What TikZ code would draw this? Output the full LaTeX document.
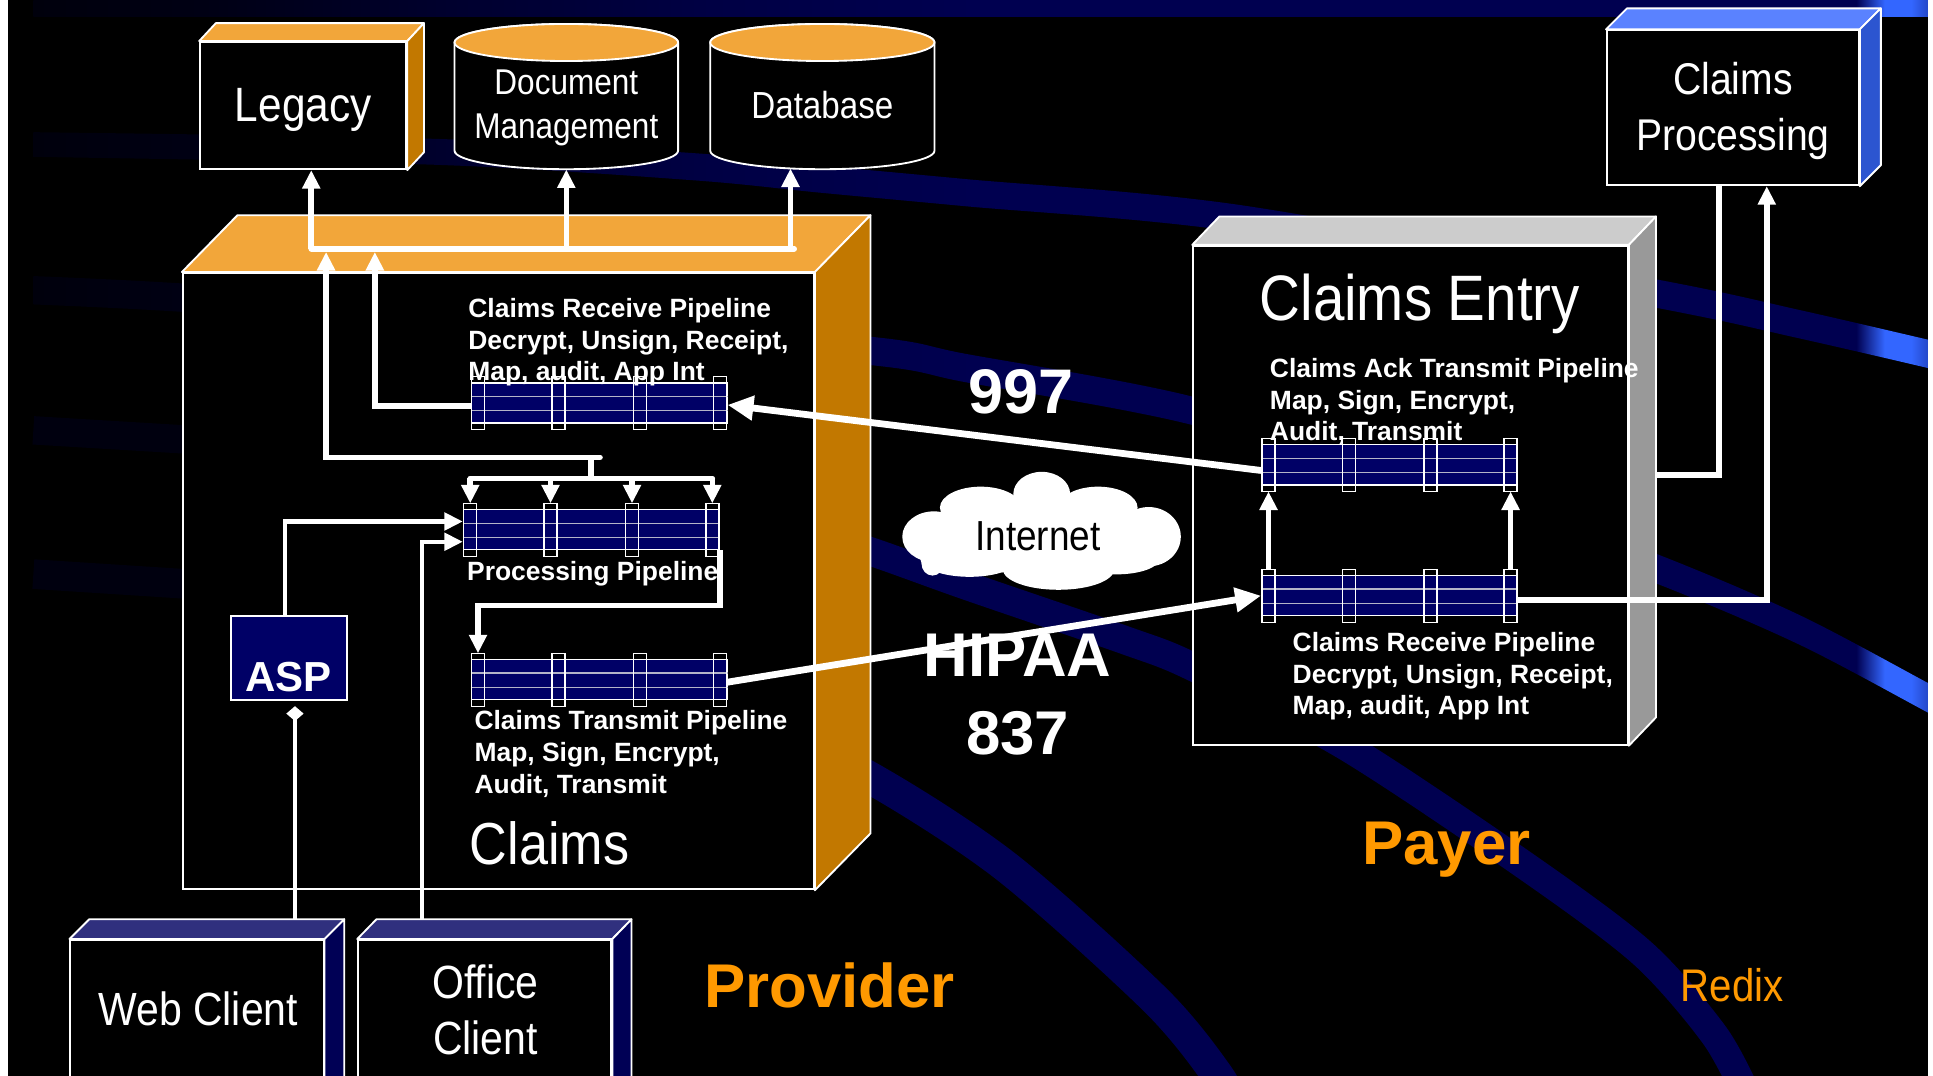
\documentclass[tikz,border=0pt]{standalone}
\usepackage{fontspec}
\setmainfont{Liberation Sans}
\newfontfamily\nar[FakeStretch=0.88]{Liberation Sans}
\usetikzlibrary{arrows.meta,calc}
\definecolor{bd0}{HTML}{00000C}
\definecolor{bd1}{HTML}{000014}
\definecolor{bd2}{HTML}{00002E}
\definecolor{bd3}{HTML}{000044}
\definecolor{bnv}{HTML}{000050}
\definecolor{brightblue}{HTML}{3366FF}
\definecolor{brightend}{HTML}{2448C8}
\definecolor{darkband}{HTML}{00000F}
\definecolor{pipenavy}{HTML}{000066}
\definecolor{pipegrey}{HTML}{B4B4C8}
\definecolor{orangetop}{HTML}{F2A63A}
\definecolor{orangeside}{HTML}{C27800}
\definecolor{greytop}{HTML}{CCCCCC}
\definecolor{greyside}{HTML}{999999}
\definecolor{bluetop}{HTML}{5A82FF}
\definecolor{blueside}{HTML}{2C55D0}
\definecolor{navytop}{HTML}{30307E}
\definecolor{navyside}{HTML}{000055}
\definecolor{lblorange}{HTML}{FF9900}
\pgfdeclarehorizontalshading{bandshade}{100bp}{color(0bp)=(bd0); color(25bp)=(bd0); color(29.5bp)=(bd1); color(36bp)=(bd2); color(42.9bp)=(bd3); color(49.9bp)=(bnv); color(73.1bp)=(bnv); color(73.85bp)=(brightblue); color(74.55bp)=(brightblue); color(75bp)=(brightend); color(100bp)=(brightend)}
\tikzset{
  tipA/.tip={Triangle[length=15pt,width=14pt]},
  tipB/.tip={Triangle[length=21pt,width=19pt]},
  tipD/.tip={Diamond[length=12pt,width=14pt]},
  front/.style={draw=white, fill=black, line width=1.5pt, inner sep=0pt},
  face/.style={draw=white, line width=1.5pt, line join=round},
  pipe/.style={draw=white, fill=pipenavy, line width=1pt, minimum width=207pt, minimum height=32.5pt, inner sep=0pt},
  pipeln/.style={draw=pipegrey, line width=1pt},
  ring/.style={draw=white, line width=1.2pt},
  conn/.style={draw=white, line width=4.5pt},
  conn2/.style={draw=white, line width=3.6pt},
  bigconn/.style={draw=white, line width=5.5pt},
  txt/.style={inner sep=0pt, text=white, anchor=base},
  navyband/.style={draw=bnv},
}
\newcommand\nfont[1]{\nar\fontsize{#1pt}{#1pt}\selectfont}
\newcommand\bfont[1]{\bfseries\fontsize{#1pt}{#1pt}\selectfont}
\newcommand\mkcube[7]{%
  \node[front, minimum width=#3, minimum height=#4] (#1) at (#2) {};
  \filldraw[face, fill=#6] (#1.north west) -- ++(#5) -- ($(#1.north east)+(#5)$) -- (#1.north east) -- cycle;
  \filldraw[face, fill=#7] (#1.north east) -- ++(#5) -- ($(#1.south east)+(#5)$) -- (#1.south east) -- cycle;
}
\newcommand\mkpipe[2]{%
  \node[pipe] (#1) at (#2) {};
  \draw[pipeln] ($(#1.north west)!0.34!(#1.south west)$) -- ($(#1.north east)!0.34!(#1.south east)$);
  \draw[pipeln] ($(#1.north west)!0.68!(#1.south west)$) -- ($(#1.north east)!0.68!(#1.south east)$);
  \foreach \o in {-98,-33,33,98}{\draw[ring] ($(#1.center)+(\o-5.25,-21.4)$) rectangle ($(#1.center)+(\o+5.25,21.6)$);}
}
\begin{document}
\begin{tikzpicture}[x=1pt,y=-1pt]
\useasboundingbox (0,0) rectangle (1565,871);
\fill[black] (0,0) rectangle (1565,871);
% ---------- background bands
\shade[shading=bandshade] (27,0) rectangle (1561,13.5);
\begin{scope}
  \clip plot[smooth] coordinates {(27,107) (355,112.5) (562,124) (664,134) (782,145) (1004,166) (1340,226) (1457,251) (1561,275) (1600,284)}
     -- plot[smooth] coordinates {(1600,308) (1561,298) (1457,274) (1340,249) (1004,188) (782,167) (664,156) (562,146) (355,133.5) (27,127)} -- cycle;
  \shade[shading=bandshade] (27,0) rectangle (1561,871);
\end{scope}
\begin{scope}
  \clip plot[smooth] coordinates {(27,223.5) (148,229.5) (420,248.5) (704,272.5) (782,286.5) (963,320.5) (1150,378) (1340,448) (1457,498) (1561,553) (1600,574)}
     -- plot[smooth] coordinates {(1600,598) (1561,577) (1457,522) (1340,472) (1150,402) (963,343.5) (782,309.5) (704,295.5) (420,271.5) (148,252.5) (27,246.5)} -- cycle;
  \shade[shading=bandshade] (27,0) rectangle (1561,871);
\end{scope}
\draw[navyband, line width=23pt] plot[smooth] coordinates {(600,412) (705,446.5) (782,474) (910,518) (966,540) (1090,604.5) (1236,701.7) (1330,772) (1388,838) (1415,888)};
\draw[navyband, line width=26pt] plot[smooth] coordinates {(600,580) (705,630) (814.6,701.7) (935.4,809.6) (986,871) (1000,900)};
\draw[darkband, line width=23pt] (27,348.4) -- (170,357);
\draw[darkband, line width=24pt] (27,464.8) -- (170,474);
% ---------- boxes
\mkcube{legacy}{245.5,85.5}{167pt}{103pt}{13.5,-14.5}{orangetop}{orangeside}
\node[inner sep=0pt, minimum width=181pt, minimum height=117.6pt] (docm) at (458.5,78.2) {};
\filldraw[face, fill=black] (368,34.4) -- (368,122) arc[start angle=180, end angle=0, x radius=90.5, y radius=15] -- (549,34.4) arc[start angle=0, end angle=-180, x radius=90.5, y radius=15] -- cycle;
\filldraw[face, fill=orangetop] (458.5,34.4) ellipse[x radius=90.5, y radius=15];
\node[inner sep=0pt, minimum width=181.6pt, minimum height=117.6pt] (db) at (665.8,78.2) {};
\filldraw[face, fill=black] (575,34.4) -- (575,122) arc[start angle=180, end angle=0, x radius=90.8, y radius=15] -- (756.6,34.4) arc[start angle=0, end angle=-180, x radius=90.8, y radius=15] -- cycle;
\filldraw[face, fill=orangetop] (665.8,34.4) ellipse[x radius=90.8, y radius=15];
\mkcube{claims}{403.5,470.5}{511pt}{499pt}{45,-46}{orangetop}{orangeside}
\mkcube{centry}{1142,401}{352pt}{404pt}{22,-23}{greytop}{greyside}
\mkcube{cp}{1403,87.25}{204pt}{125.5pt}{17,-17}{bluetop}{blueside}
\mkcube{web}{159.5,830.5}{205pt}{139pt}{16,-16}{navytop}{navyside}
\mkcube{office}{392.5,830.5}{205pt}{139pt}{15.5,-16}{navytop}{navyside}
\node[draw=white, fill=pipenavy, line width=1.5pt, inner sep=0pt, minimum width=94.5pt, minimum height=68pt] (asp) at (233.95,532.7) {};
% ---------- pipelines
\mkpipe{P1}{485,326.3}
\mkpipe{P2}{478.7,428.9}
\mkpipe{P3}{485,550.3}
\mkpipe{P4}{1125,376.4}
\mkpipe{P5}{1125,482.3}
% ---------- connectors
\coordinate (bL) at (252,201.4);
\coordinate (bR) at (643,201.4);
\coordinate (dbx) at (640,0);
\draw[conn, line cap=round] (bL) -- (bR);
\draw[conn,-{tipA}] (bL) -- (bL |- legacy.south);
\draw[conn,-{tipA}] (docm.south |- bL) -- (docm.south);
\draw[conn,-{tipA}] (dbx |- bL) -- (640,136.4);
\coordinate (up1) at (303.5,204);
\draw[conn,-{tipA}] ([yshift=-2.5pt]P1.west) -| (up1);
\coordinate (jR) at (485.8,370.3);
\coordinate (jL) at (264,370.3);
\coordinate (jM) at (478.5,370.3);
\coordinate (up2) at (264,204);
\draw[conn, line cap=round, -{tipA}] (jR) -- (jL) -- (up2);
\draw[conn] (jM) -- ($(P2.center)+(-0.2,-41.6)$);
\draw[conn, line cap=round] ($(P2.center)+(-98,-41.6)$) -- ($(P2.center)+(98,-41.6)$);
\foreach \o in {-98,-33,33,98}{\draw[conn,-{tipA}] ($(P2.center)+(\o,-41.6)$) -- ($(P2.center)+(\o,-21.4)$);}
\draw[conn,-{tipA}] (P2.south east) |- ($(P3.center)+(-98,-60)$) -- ($(P3.center)+(-98,-21.4)$);
\draw[conn2,-{tipA}] ([xshift=-3.3pt]asp.north) |- ([yshift=6.7pt]P2.west);
\coordinate (offtop) at ($(office.north)+(0,-16)$);
\coordinate (ox) at (341.7,0);
\draw[conn2,-{tipA}] (offtop -| ox) |- ([yshift=-9.7pt]P2.west);
\coordinate (webtop) at ($(web.north)+(0,-16)$);
\coordinate (wx) at (238.8,0);
\draw[conn2,-{tipD}, shorten >=4.3pt] (webtop -| wx) -- (asp.south -| wx);
\draw[bigconn,-{tipB}] ([yshift=-4.5pt]P4.west) -- ([yshift=-1.5pt]P1.east);
\draw[bigconn,-{tipB}] ([yshift=-2pt]P3.east) -- (P5.west);
\draw[conn,-{tipA}] ($(P5.center)+(-98,-21.5)$) -- ($(P4.center)+(-98,21.5)$);
\draw[conn,-{tipA}] ($(P5.center)+(98,-21.5)$) -- ($(P4.center)+(98,21.5)$);
\draw[conn,-{tipA}] ([yshift=-3.3pt]P5.east) -| ([xshift=27.4pt]cp.south);
\coordinate (ceside) at (1340.6,384.7);
\draw[conn] (ceside) -| ([xshift=-11.5pt]cp.south);
% ---------- cloud
\fill[white] (843.4,400) ellipse[x radius=23, y radius=18];
\fill[white] (794,411) ellipse[x radius=33, y radius=17];
\fill[white] (889,411) ellipse[x radius=32, y radius=17];
\fill[white] (756,434.5) ellipse[x radius=25.5, y radius=20.5];
\fill[white] (930,434.5) ellipse[x radius=26, y radius=24];
\fill[white] (843,435) ellipse[x radius=95, y radius=30];
\fill[white] (785,452) ellipse[x radius=40, y radius=15];
\fill[white] (857,461) ellipse[x radius=45, y radius=16.5];
\fill[white] (904,452) ellipse[x radius=35, y radius=13];
\fill[white] (755,456) ellipse[x radius=9, y radius=10];
% ---------- texts
\node[txt, font={\nfont{39}}] (legacyT) at (245.5,98.6) {Legacy};
\node[txt] (docT) at (458.5,76.4) {\parbox[t]{220pt}{\centering\nar\fontsize{29pt}{36pt}\selectfont Document\\Management}};
\node[txt, font={\nfont{30.5}}] (dbT) at (665.8,95.8) {Database};
\node[txt] (cpT) at (1403,76.4) {\parbox[t]{220pt}{\centering\nar\fontsize{36pt}{45.8pt}\selectfont Claims\\Processing}};
\node[txt, font={\nfont{52}}] (ceT) at (1149.5,259.7) {Claims Entry};
\node[txt, font={\nfont{48}}] (claimsT) at (445,699.5) {Claims};
\node[txt, font={\nfont{37.7}}] (webT) at (160.5,830.6) {Web Client};
\node[txt] (officeT) at (393,808) {\parbox[t]{200pt}{\centering\nar\fontsize{37.7pt}{45.7pt}\selectfont Office\\Client}};
\node[txt, text=black, font={\nfont{34}}] (internetT) at (840.3,445.3) {Internet};
\node[txt, text=lblorange, font={\nfont{37}}] (redixT) at (1402.5,810.6) {Redix};
\node[txt, font={\bfont{51}}] (n997) at (827,334.6) {997};
\node[txt] (hipaaT) at (824,548) {\parbox[t]{200pt}{\centering\bfseries\fontsize{50pt}{62.6pt}\selectfont HIPAA\\837}};
\node[txt, text=lblorange, font={\bfont{50}}] (providerT) at (671.5,816) {Provider};
\node[txt, text=lblorange, font={\bfont{50}}] (payerT) at (1171,699.5) {Payer};
\node[txt, font={\bfont{34}}] (aspT) at (233.4,560) {ASP};
\node[txt, anchor=base west] (lab1) at (379,257) {\parbox[t]{320pt}{\raggedright\bfseries\fontsize{21.4pt}{25.7pt}\selectfont Claims Receive Pipeline\\Decrypt, Unsign, Receipt,\\Map, audit, App Int}};
\node[txt, anchor=base west, font={\bfont{21.4}}] (lab2) at (378,470.3) {Processing Pipeline};
\node[txt, anchor=base west] (lab3) at (384,591) {\parbox[t]{320pt}{\raggedright\bfseries\fontsize{21.4pt}{25.7pt}\selectfont Claims Transmit Pipeline\\Map, Sign, Encrypt,\\Audit, Transmit}};
\node[txt, anchor=base west] (lab4) at (1028,305.5) {\parbox[t]{340pt}{\raggedright\bfseries\fontsize{21.4pt}{25.7pt}\selectfont Claims Ack Transmit Pipeline\\Map, Sign, Encrypt,\\Audit, Transmit}};
\node[txt, anchor=base west] (lab5) at (1046.4,527.3) {\parbox[t]{320pt}{\raggedright\bfseries\fontsize{21.4pt}{25.7pt}\selectfont Claims Receive Pipeline\\Decrypt, Unsign, Receipt,\\Map, audit, App Int}};
% ---------- edge strips
\fill[white] (0,0) rectangle (6.5,871);
\fill[white] (1561,0) rectangle (1565,871);
\end{tikzpicture}
\end{document}
